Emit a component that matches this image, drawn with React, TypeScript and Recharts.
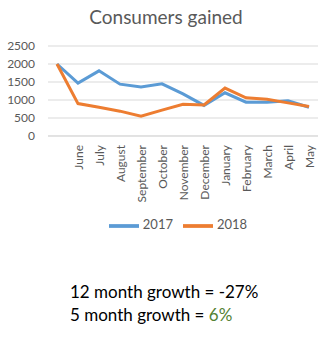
import React from "react";
import { LineChart, Line, XAxis, YAxis, CartesianGrid, Legend } from "recharts";

const months = ["", "June", "July", "August", "September", "October", "November", "December", "January", "February", "March", "April", "May"];
const gained2017 = [2000, 1470, 1810, 1440, 1360, 1450, 1170, 850, 1200, 940, 940, 980, 800];
const gained2018 = [2000, 900, 800, 690, 550, 720, 880, 860, 1330, 1060, 1020, 920, 820];
const yTicks = [0, 500, 1000, 1500, 2000, 2500];

const FONT = "Lato, 'Open Sans', sans-serif";
const GREY = "#595959";

const MonthTick = (props: any) => {
  const { x, y, payload } = props;
  return (
    <text
      x={x}
      y={y}
      transform={`rotate(-90, ${x}, ${y})`}
      textAnchor="end"
      dominantBaseline="central"
      fill={GREY}
      fontSize={12}
      fontFamily={FONT}
    >
      {payload.value}
    </text>
  );
};

export default function App() {
  const data = months.map((m, i) => ({ month: m, y2017: gained2017[i], y2018: gained2018[i] }));

  return (
    <div style={{ position: "absolute", left: 0, top: 0, width: 332, height: 341, background: "#fff", fontFamily: FONT }}>
      <div style={{ position: "absolute", top: 5, left: 0, width: 332, textAlign: "center", fontSize: 19, color: GREY }}>
        Consumers gained
      </div>
      <div style={{ position: "absolute", top: 0, left: 0 }}>
        <LineChart width={332} height={250} data={data} margin={{ top: 46, right: 14, bottom: 36, left: 0 }}>
          <CartesianGrid vertical={false} stroke="#d9d9d9" />
          <XAxis
            dataKey="month"
            interval={0}
            padding={{ left: 9, right: 9 }}
            axisLine={{ stroke: "#d9d9d9" }}
            tickLine={false}
            tickSize={0}
            tickMargin={9}
            height={78}
            tick={<MonthTick />}
          />
          <YAxis
            domain={[0, 2500]}
            ticks={yTicks}
            interval={0}
            width={48}
            axisLine={false}
            tickLine={false}
            tickSize={0}
            tickMargin={13}
            tick={{ fill: GREY, fontSize: 12, fontFamily: FONT }}
          />
          <Legend
            layout="horizontal"
            verticalAlign="middle"
            align="center"
            iconType="plainline"
            iconSize={30}
            wrapperStyle={{ top: 211, left: 24, fontSize: 13, fontFamily: FONT }}
            formatter={(v: string) => <span style={{ color: GREY }}>{v}</span>}
          />
          <Line name="2017" dataKey="y2017" stroke="#5B9BD5" strokeWidth={3} dot={false} isAnimationActive={false} />
          <Line name="2018" dataKey="y2018" stroke="#ED7D31" strokeWidth={3} dot={false} isAnimationActive={false} />
        </LineChart>
      </div>
      <div style={{ position: "absolute", left: 70, top: 280, fontSize: 17, lineHeight: "23px", color: "#000" }}>
        <div>12 month growth = -27%</div>
        <div>
          5 month growth = <span style={{ color: "#548235" }}>6%</span>
        </div>
      </div>
    </div>
  );
}
